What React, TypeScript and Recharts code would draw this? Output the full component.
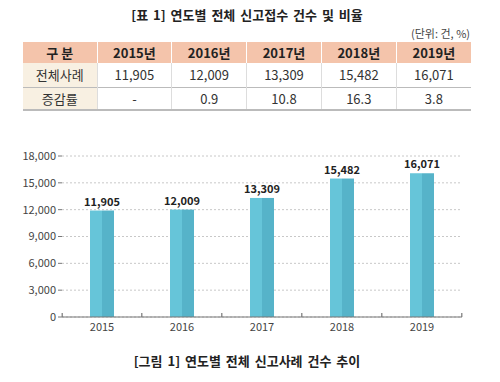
import { BarChart, Bar, XAxis, YAxis, CartesianGrid, LabelList } from 'recharts'

const years      = ['2015', '2016', '2017', '2018', '2019']
const cases      = [11905, 12009, 13309, 15482, 16071]
const growth     = ['-', '0.9', '10.8', '16.3', '3.8']
const yTicks     = [0, 3000, 6000, 9000, 12000, 15000, 18000]

const font = '"Noto Sans CJK KR", "Noto Sans", sans-serif'
const data = years.map((y, i) => ({ year: y, value: cases[i] }))
const fmt = (v: number) => v.toLocaleString('en-US')

const HEADER_BG = '#f4c4ab'
const FIRST_COL_BG = '#f8f0e2'
const BAR_LIGHT = '#66c5d9'
const BAR_DARK  = '#56b3c9'

const TwoToneBar = (props: any) => {
  const { x, y, width, height } = props
  if (!height || height <= 0) return null
  const half = width / 2
  return (
    <g>
      <rect x={x} y={y} width={half} height={height} fill={BAR_LIGHT} />
      <rect x={x + half} y={y} width={width - half} height={height} fill={BAR_DARK} />
    </g>
  )
}

const YearTick = (props: any) => {
  const { x, y, payload, index } = props
  const band = 398 / years.length
  return (
    <g>
      {index === 0 && <line x1={x - band / 2} x2={x - band / 2} y1={y - 4} y2={y} stroke="#777" strokeWidth={1.2} />}
      <line x1={x + band / 2} x2={x + band / 2} y1={y - 4} y2={y} stroke="#777" strokeWidth={1.2} />
      <text x={x} y={y + 14} textAnchor="middle" fontSize={11} fill="#444" fontFamily={font}>{payload.value}</text>
    </g>
  )
}

export default function App() {
  const cell: React.CSSProperties = {
    fontFamily: font, fontSize: '13px', color: '#333', textAlign: 'center',
    padding: 0, borderLeft: '1px solid #ddd',
  }
  const head: React.CSSProperties = {
    ...cell, fontWeight: 700, color: '#222', background: HEADER_BG, borderLeft: '1px solid #fff', height: '21px',
  }

  return (
    <div style={{ position: 'relative', width: 500, height: 382, margin: '-8px', background: '#fff', overflow: 'hidden' }}>
      <div style={{ position: 'absolute', left: 0, width: 494, top: 5, textAlign: 'center', fontFamily: font, fontSize: '13px', fontWeight: 700, color: '#222', lineHeight: '20px', wordSpacing: '2px' }}>
        [표 1] 연도별 전체 신고접수 건수 및 비율
      </div>
      <div style={{ position: 'absolute', right: 30, top: 24, fontFamily: font, fontSize: '11px', color: '#444', lineHeight: '18px' }}>
        (단위: 건, %)
      </div>

      <table style={{ position: 'absolute', left: 23, top: 42, width: 448, borderCollapse: 'collapse', tableLayout: 'fixed', borderBottom: '2px solid #bbb' }}>
        <colgroup>
          <col style={{ width: 74 }} />
          {years.map((y) => <col key={y} style={{ width: 74.8 }} />)}
        </colgroup>
        <thead>
          <tr>
            <th style={{ ...head, borderLeft: 'none' }}>구 분</th>
            {years.map((y) => <th key={y} style={head}>{y}년</th>)}
          </tr>
        </thead>
        <tbody>
          <tr style={{ height: 24, borderBottom: '1px solid #bbb' }}>
            <td style={{ ...cell, background: FIRST_COL_BG, borderLeft: 'none' }}>전체사례</td>
            {cases.map((c, i) => <td key={i} style={cell}>{fmt(c)}</td>)}
          </tr>
          <tr style={{ height: 23 }}>
            <td style={{ ...cell, background: FIRST_COL_BG, borderLeft: 'none' }}>증감률</td>
            {growth.map((g, i) => <td key={i} style={cell}>{g}</td>)}
          </tr>
        </tbody>
      </table>

      <div style={{ position: 'absolute', left: 0, top: 140 }}>
        <BarChart width={500} height={200} data={data} margin={{ top: 16, right: 38, left: 0, bottom: 0 }}>
          <CartesianGrid vertical={false} stroke="#c8c8c8" strokeDasharray="2 2" />
          <XAxis dataKey="year" height={23} tickSize={0} tickMargin={0} tick={<YearTick />} axisLine={{ stroke: '#777', strokeWidth: 1.2 }} tickLine={false} />
          <YAxis
            width={62}
            domain={[0, 18000]}
            ticks={yTicks}
            tickFormatter={fmt}
            axisLine={false}
            tickSize={4}
            tickLine={{ stroke: '#777' }}
            tick={{ fontSize: 11, fill: '#444', fontFamily: font }}
          />
          <Bar dataKey="value" barSize={24} shape={<TwoToneBar />} isAnimationActive={false}>
            <LabelList dataKey="value" position="top" offset={5} formatter={(v: any) => fmt(Number(v))} style={{ fontSize: 11, fontWeight: 600, fill: '#222', fontFamily: font }} />
          </Bar>
        </BarChart>
      </div>

      <div style={{ position: 'absolute', left: 0, width: 494, top: 351, textAlign: 'center', fontFamily: font, fontSize: '13px', fontWeight: 700, color: '#222', lineHeight: '20px', wordSpacing: '2px' }}>
        [그림 1] 연도별 전체 신고사례 건수 추이
      </div>
    </div>
  )
}
